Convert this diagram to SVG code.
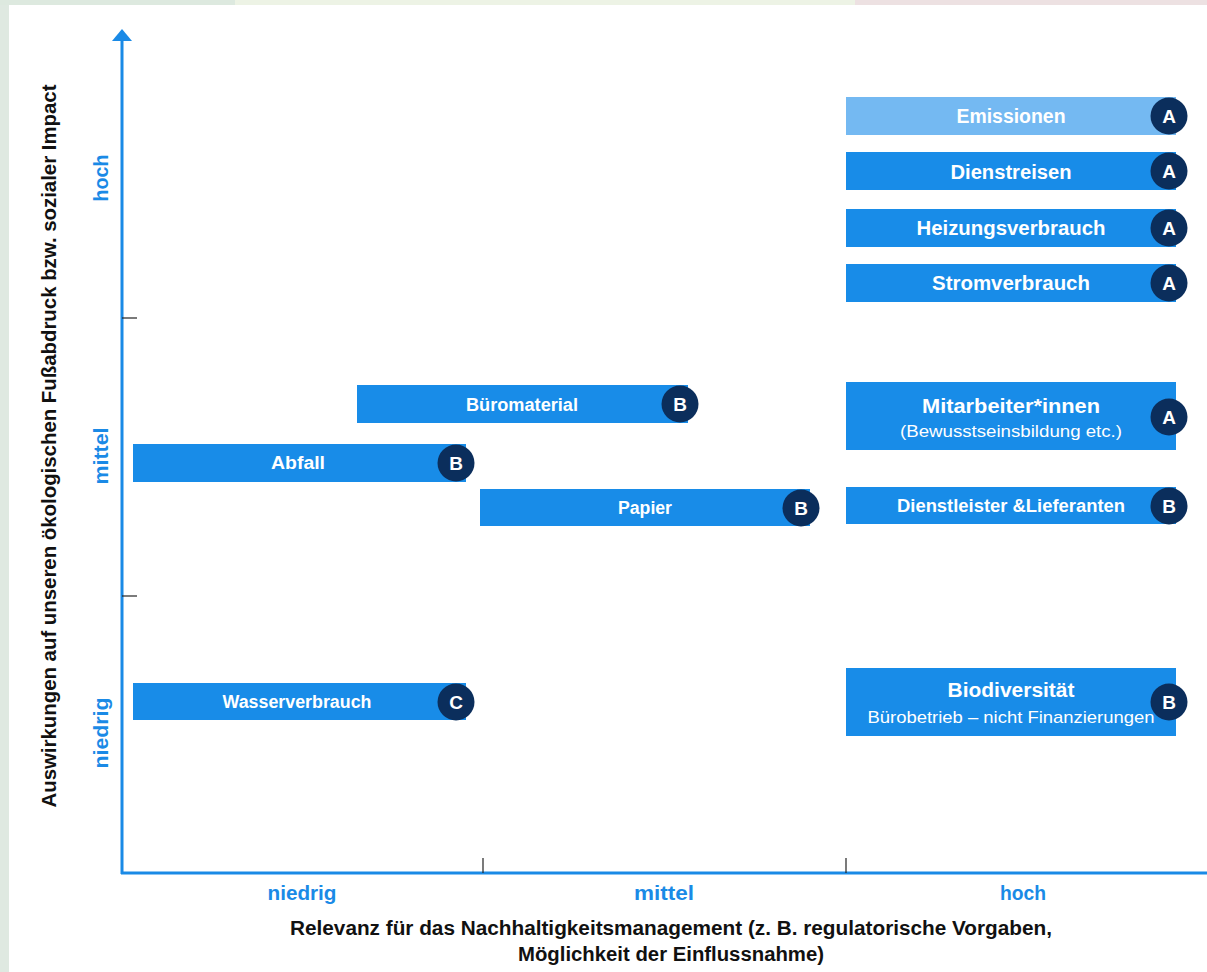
<svg xmlns="http://www.w3.org/2000/svg" width="1207" height="972" viewBox="0 0 1207 972">
<style>
.bar{fill:#188ce8}
.bar-light{fill:#74b9f2}
.bd{fill:#0b2e5c}
.bdt{fill:#ffffff;font-family:"Liberation Sans",Arial,sans-serif;font-weight:bold;font-size:19px;text-anchor:middle}
.lbl{fill:#ffffff;font-family:"Liberation Sans",Arial,sans-serif;font-weight:bold;text-anchor:middle}
.sub{fill:#ffffff;font-family:"Liberation Sans",Arial,sans-serif;font-weight:normal;text-anchor:middle}
.ax{fill:#1a8ae6;font-family:"Liberation Sans",Arial,sans-serif;font-weight:bold;font-size:20px;text-anchor:middle}
.ttl{fill:#111111;font-family:"Liberation Sans",Arial,sans-serif;font-weight:bold;font-size:20px;text-anchor:middle}
.tick{stroke:#222222;stroke-width:1.2}
.axis{stroke:#1a8ae6;stroke-width:3;fill:none}
</style>
<rect x="0" y="0" width="1207" height="972" fill="#ffffff"/>
<rect x="0" y="0" width="9" height="972" fill="#dfe9e1"/>
<rect x="0" y="0" width="235" height="5" fill="#dde9df"/>
<rect x="235" y="0" width="620" height="5" fill="#edf3e5"/>
<rect x="855" y="0" width="352" height="5" fill="#ede1e2"/>

<g id="axes">
<line class="axis" x1="122" y1="40" x2="122" y2="874"/>
<polygon points="122,29 112,41 132,41" fill="#1a8ae6"/>
<line class="axis" x1="121" y1="873" x2="1207" y2="873"/>
<line class="tick" x1="122" y1="318" x2="137" y2="318"/>
<line class="tick" x1="122" y1="596" x2="137" y2="596"/>
<line class="tick" x1="483" y1="858" x2="483" y2="873"/>
<line class="tick" x1="846" y1="858" x2="846" y2="873"/>
<text class="ax" transform="translate(108,178) rotate(-90)" textLength="47" lengthAdjust="spacingAndGlyphs">hoch</text>
<text class="ax" transform="translate(108,456) rotate(-90)" textLength="57" lengthAdjust="spacingAndGlyphs">mittel</text>
<text class="ax" transform="translate(108,733) rotate(-90)" textLength="71" lengthAdjust="spacingAndGlyphs">niedrig</text>
<text class="ax" x="302" y="900" textLength="69" lengthAdjust="spacingAndGlyphs">niedrig</text>
<text class="ax" x="664" y="900" textLength="60" lengthAdjust="spacingAndGlyphs">mittel</text>
<text class="ax" x="1023" y="900" textLength="46" lengthAdjust="spacingAndGlyphs">hoch</text>
<text class="ttl" transform="translate(56,446) rotate(-90)" textLength="723" lengthAdjust="spacingAndGlyphs">Auswirkungen auf unseren ökologischen Fußabdruck bzw. sozialer Impact</text>
<text class="ttl" x="671" y="935" font-size="19" textLength="762" lengthAdjust="spacingAndGlyphs">Relevanz für das Nachhaltigkeitsmanagement (z. B. regulatorische Vorgaben,</text>
<text class="ttl" x="671" y="961" font-size="19" textLength="306" lengthAdjust="spacingAndGlyphs">Möglichkeit der Einflussnahme)</text>
</g>

<g id="emissionen">
<rect class="bar-light" x="846" y="97" width="330" height="38"/>
<text class="lbl" x="1011" y="123" font-size="20" textLength="109" lengthAdjust="spacingAndGlyphs">Emissionen</text>
<circle class="bd" cx="1169" cy="116" r="18.5"/><text class="bdt" x="1169" y="123">A</text>
</g>
<g id="dienstreisen">
<rect class="bar" x="846" y="152" width="330" height="38"/>
<text class="lbl" x="1011" y="179" font-size="20" textLength="121" lengthAdjust="spacingAndGlyphs">Dienstreisen</text>
<circle class="bd" cx="1169" cy="171" r="18.5"/><text class="bdt" x="1169" y="178">A</text>
</g>
<g id="heizungsverbrauch">
<rect class="bar" x="846" y="209" width="330" height="38"/>
<text class="lbl" x="1011" y="235" font-size="20" textLength="189" lengthAdjust="spacingAndGlyphs">Heizungsverbrauch</text>
<circle class="bd" cx="1169" cy="228" r="18.5"/><text class="bdt" x="1169" y="235">A</text>
</g>
<g id="stromverbrauch">
<rect class="bar" x="846" y="264" width="330" height="38"/>
<text class="lbl" x="1011" y="290" font-size="20" textLength="158" lengthAdjust="spacingAndGlyphs">Stromverbrauch</text>
<circle class="bd" cx="1169" cy="283" r="18.5"/><text class="bdt" x="1169" y="290">A</text>
</g>
<g id="mitarbeiter">
<rect class="bar" x="846" y="382" width="330" height="68"/>
<text class="lbl" x="1011" y="413" font-size="20" textLength="178" lengthAdjust="spacingAndGlyphs">Mitarbeiter*innen</text>
<text class="sub" x="1011" y="437" font-size="16" textLength="222" lengthAdjust="spacingAndGlyphs">(Bewusstseinsbildung etc.)</text>
<circle class="bd" cx="1169" cy="417" r="18.5"/><text class="bdt" x="1169" y="424">A</text>
</g>
<g id="dienstleister">
<rect class="bar" x="846" y="487" width="330" height="37"/>
<text class="lbl" x="1011" y="512" font-size="18" textLength="228" lengthAdjust="spacingAndGlyphs">Dienstleister &amp;Lieferanten</text>
<circle class="bd" cx="1169" cy="506" r="18.5"/><text class="bdt" x="1169" y="513">B</text>
</g>
<g id="biodiversitaet">
<rect class="bar" x="846" y="668" width="330" height="68"/>
<text class="lbl" x="1011" y="697" font-size="20" textLength="127" lengthAdjust="spacingAndGlyphs">Biodiversität</text>
<text class="sub" x="1011" y="723" font-size="17" textLength="287" lengthAdjust="spacingAndGlyphs">Bürobetrieb – nicht Finanzierungen</text>
<circle class="bd" cx="1169" cy="702" r="18.5"/><text class="bdt" x="1169" y="709">B</text>
</g>
<g id="bueromaterial">
<rect class="bar" x="357" y="385" width="331" height="38"/>
<text class="lbl" x="522" y="411" font-size="18" textLength="112" lengthAdjust="spacingAndGlyphs">Büromaterial</text>
<circle class="bd" cx="680" cy="404" r="18.5"/><text class="bdt" x="680" y="411">B</text>
</g>
<g id="abfall">
<rect class="bar" x="133" y="444" width="333" height="38"/>
<text class="lbl" x="298" y="469" font-size="18" textLength="54" lengthAdjust="spacingAndGlyphs">Abfall</text>
<circle class="bd" cx="456" cy="463" r="18.5"/><text class="bdt" x="456" y="470">B</text>
</g>
<g id="papier">
<rect class="bar" x="480" y="489" width="330" height="37"/>
<text class="lbl" x="645" y="514" font-size="18" textLength="54" lengthAdjust="spacingAndGlyphs">Papier</text>
<circle class="bd" cx="801" cy="508" r="18.5"/><text class="bdt" x="801" y="515">B</text>
</g>
<g id="wasserverbrauch">
<rect class="bar" x="133" y="683" width="333" height="37"/>
<text class="lbl" x="297" y="708" font-size="18" textLength="149" lengthAdjust="spacingAndGlyphs">Wasserverbrauch</text>
<circle class="bd" cx="456" cy="702" r="18.5"/><text class="bdt" x="456" y="709">C</text>
</g>
</svg>
